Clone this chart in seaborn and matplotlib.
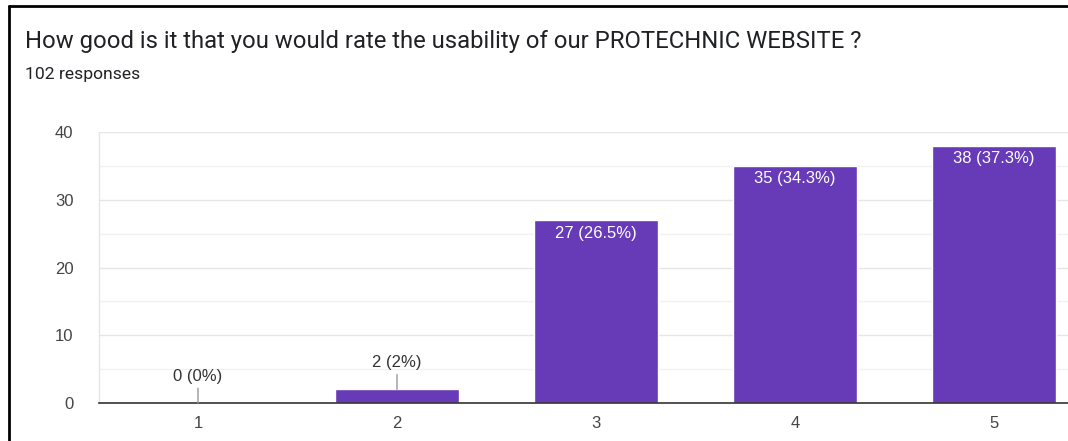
import numpy as np
import pandas as pd
import matplotlib.pyplot as plt
import seaborn as sns

# Survey data
ratings = ["1", "2", "3", "4", "5"]
counts = [0, 2, 27, 35, 38]
percents = ["0%", "2%", "26.5%", "34.3%", "37.3%"]
title = "How good is it that you would rate the usability of our PROTECHNIC WEBSITE ?"
subtitle = "102 responses"
y_ticks = [0, 10, 20, 30, 40]

sns.set_theme(style="white")
plt.rcParams["font.family"] = ["Roboto", "DejaVu Sans"]
chart_font = ["Liberation Sans", "DejaVu Sans"]

df = pd.DataFrame({"rating": ratings, "count": counts})

W, H = 1068, 441
fig = plt.figure(figsize=(W / 100, H / 100), dpi=100)
fig.patch.set_facecolor("white")

# Screenshot frame (left and top edges only)
fig.add_artist(plt.Line2D([9 / W, 9 / W], [0, 1 - 6 / H], transform=fig.transFigure,
                          color="black", lw=2))
fig.add_artist(plt.Line2D([9 / W, 1], [1 - 6 / H, 1 - 6 / H], transform=fig.transFigure,
                          color="black", lw=2))

fig.text(25 / W, 1 - 48 / H, title, fontsize=17.2, color="#202124", va="baseline")
fig.text(25 / W, 1 - 79 / H, subtitle, fontsize=12.6, color="#202124", va="baseline")

# Axes: x from 98.5px to 1094.5px (extends past the right edge), y0 at 403, y40 at 132
left, right = 98.5, 1093.5
bottom, top = 403, 132
ax = fig.add_axes([left / W, 1 - bottom / H, (right - left) / W, (bottom - top) / H])
ax.set_facecolor("white")

sns.barplot(data=df, x="rating", y="count", color="#673ab7", width=0.62,
            saturation=1, ax=ax, zorder=3)

ax.set_xlim(-0.5, 4.5)
ax.set_ylim(0, 40)
ax.set_yticks(y_ticks)
ax.set_yticks([5, 15, 25, 35], minor=True)
ax.grid(axis="y", which="major", color="#e6e6e6", lw=1, zorder=0)
ax.grid(axis="y", which="minor", color="#f2f2f2", lw=1, zorder=0)
ax.grid(axis="x", visible=False)
for s in ["top", "right"]:
    ax.spines[s].set_visible(False)
ax.spines["left"].set_color("#e6e6e6")
ax.spines["left"].set_linewidth(1)
ax.spines["bottom"].set_color("#333333")
ax.spines["bottom"].set_linewidth(1.2)
ax.spines["bottom"].set_zorder(4)
ax.tick_params(axis="both", which="both", length=0, labelsize=12, colors="#444444")
ax.tick_params(axis="x", pad=9)
ax.tick_params(axis="y", pad=18)
for lab in ax.get_xticklabels() + ax.get_yticklabels():
    lab.set_fontfamily(chart_font)
ax.set_xlabel("")
ax.set_ylabel("")

# Value labels
for i, (c, p) in enumerate(zip(counts, percents)):
    label = f"{c} ({p})"
    if c >= 10:
        ax.annotate(label, (i, c), xytext=(0, -4), textcoords="offset points",
                    ha="center", va="top", color="white", fontsize=12,
                    family=chart_font, zorder=5)
    else:
        ax.annotate(label, (i, c), xytext=(0, 14), textcoords="offset points",
                    ha="center", va="bottom", color="#333333", fontsize=12,
                    family=chart_font, zorder=5,
                    arrowprops=dict(arrowstyle="-", color="#999999", lw=1,
                                    shrinkA=1, shrinkB=0))

fig.savefig("out.png", dpi=100, facecolor="white")
